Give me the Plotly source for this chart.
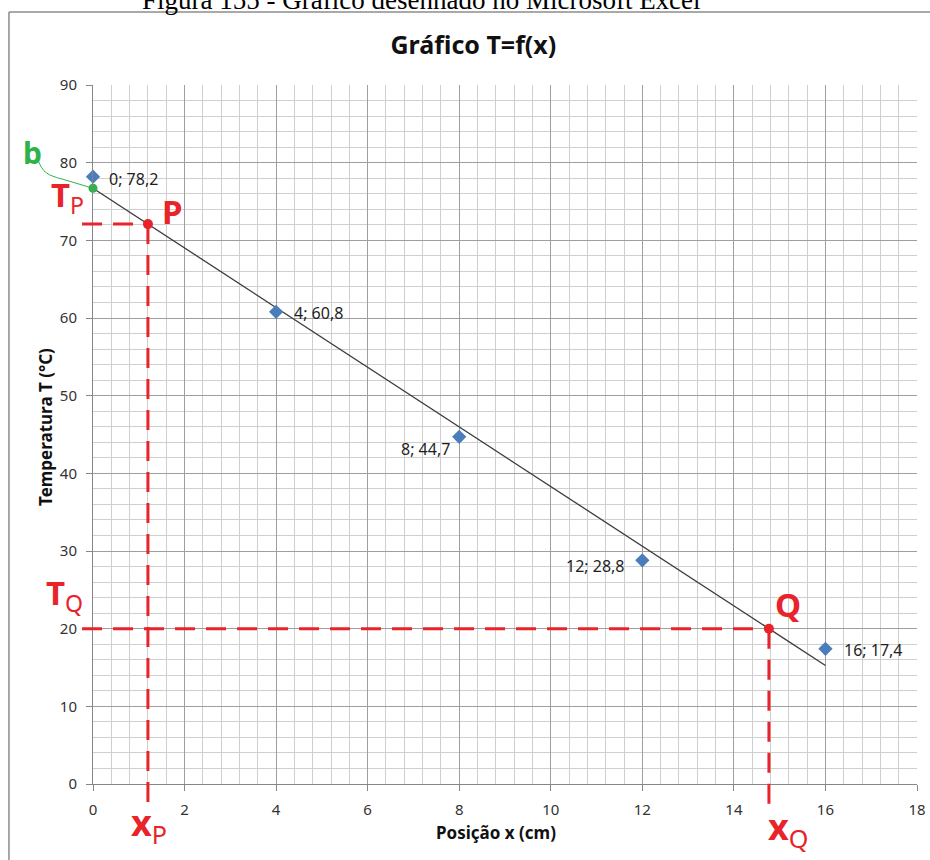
import numpy as np
import plotly.graph_objects as go

# Measured temperature along the bar
positions_cm = [0, 4, 8, 12, 16]
temperatures_c = [78.2, 60.8, 44.7, 28.8, 17.4]

# Label placement for each data point: (xanchor, xshift, yshift)
label_style = [("left", 14, -2), ("left", 16, -1), ("right", -7, -12),
               ("right", -15, -6), ("left", 17, -1)]

x_ticks = list(range(0, 19, 2))
y_ticks = list(range(0, 91, 10))
X_RANGE = (0, 18)
Y_RANGE = (0, 90)

# Linear fit T = a*x + b
slope, intercept = np.polyfit(positions_cm, temperatures_c, 1)

# Chosen points on the fitted line
x_p = 1.2
t_p = slope * x_p + intercept
t_q = 20.0
x_q = (t_q - intercept) / slope

RED = "#e8232a"
GREEN = "#2fb24a"
BLUE = "#4a7ebb"
FONT = "Noto Sans"


def to_px(x):
    return (x - X_RANGE[0]) / (X_RANGE[1] - X_RANGE[0])


def to_py(y):
    return (y - Y_RANGE[0]) / (Y_RANGE[1] - Y_RANGE[0])


fig = go.Figure()

# Trend line
fit_x = np.array([positions_cm[0], positions_cm[-1]], dtype=float)
fig.add_trace(go.Scatter(
    x=fit_x, y=slope * fit_x + intercept, mode="lines",
    line=dict(color="#3c3c3c", width=1.3), hoverinfo="skip", showlegend=False))

# Measured points
fig.add_trace(go.Scatter(
    x=positions_cm, y=temperatures_c, mode="markers",
    marker=dict(symbol="diamond", size=11, color=BLUE),
    showlegend=False, cliponaxis=False))

# Dashed guides for P and Q (paper coords so they can leave the plot area)
dash = "20px,11px"
for gx, gy, ybottom in [(x_p, t_p, -0.037), (x_q, t_q, -0.035)]:
    fig.add_shape(type="line", xref="paper", yref="paper",
                  x0=-0.0133, x1=to_px(gx), y0=to_py(gy), y1=to_py(gy),
                  line=dict(color=RED, width=3, dash=dash))
    fig.add_shape(type="line", xref="paper", yref="paper",
                  x0=to_px(gx), x1=to_px(gx), y0=to_py(gy), y1=ybottom,
                  line=dict(color=RED, width=3, dash=dash))

# Curved leader from the "b" label to the intercept
fig.add_shape(type="path", xref="paper", yref="paper",
              xsizemode="pixel", ysizemode="pixel",
              xanchor=to_px(0), yanchor=to_py(intercept),
              path="M -55,28 C -50,16 -46,13 -30,9 L 0,0",
              line=dict(color=GREEN, width=1))

# Intercept b and points P, Q
fig.add_trace(go.Scatter(
    x=[0], y=[intercept], mode="markers",
    marker=dict(size=9, color=GREEN), showlegend=False, cliponaxis=False))
fig.add_trace(go.Scatter(
    x=[x_p, x_q], y=[t_p, t_q], mode="markers",
    marker=dict(size=10, color=RED), showlegend=False, cliponaxis=False))

annotations = []

# Data labels
for xv, yv, (anchor, dx, dy) in zip(positions_cm, temperatures_c, label_style):
    txt = f"{xv}; {yv:.1f}".replace(".", ",")
    annotations.append(dict(
        x=xv, y=yv, xref="x", yref="y", text=txt, showarrow=False,
        xanchor=anchor, yanchor="middle", xshift=dx, yshift=dy,
        font=dict(family=FONT, size=16, color="#1e1e1e")))

red_font = dict(family=FONT, size=33, color=RED)
center = dict(showarrow=False, xanchor="center", yanchor="middle")
annotations += [
    dict(x=0, y=intercept, xref="x", yref="y", text="<b>b</b>",
         xshift=-61, yshift=36, font=dict(family=FONT, size=30, color=GREEN),
         **center),
    dict(x=-0.031, y=t_p, xref="paper", yref="y", text="<b>T</b><sub>P</sub>",
         yshift=28, font=red_font, **center),
    dict(x=-0.034, y=t_q, xref="paper", yref="y", text="<b>T</b><sub>Q</sub>",
         yshift=34, font=red_font, **center),
    dict(x=x_p, y=t_p, xref="x", yref="y", text="<b>P</b>",
         xshift=25, yshift=13, font=red_font, **center),
    dict(x=x_q, y=t_q, xref="x", yref="y", text="<b>Q</b>",
         xshift=19, yshift=24, font=red_font, **center),
    dict(x=x_p, y=-0.058, xref="x", yref="paper", text="<b>x</b><sub>P</sub>",
         xshift=1, font=dict(family=FONT, size=36, color=RED), **center),
    dict(x=x_q, y=-0.064, xref="x", yref="paper", text="<b>x</b><sub>Q</sub>",
         xshift=19, font=dict(family=FONT, size=36, color=RED), **center),
]

# Axis titles
annotations += [
    dict(x=0.489, y=-0.0701, xref="paper", yref="paper",
         text="<b>Posição x (cm)</b>",
         font=dict(family=FONT, size=17, color="#111"), **center),
    dict(x=-0.0583, y=0.5107, xref="paper", yref="paper",
         text="<b>Temperatura T (°C)</b>", textangle=-90,
         font=dict(family=FONT, size=17, color="#111"), **center),
]

# Caption above the chart frame
annotations.append(dict(
    x=0.399, y=1.121, xref="paper", yref="paper",
    text="Figura 155 - Gráfico desenhado no Microsoft Excel",
    font=dict(family="Liberation Serif", size=27, color="#000"), **center))

# Chart frame (left and top edges)
frame = dict(color="#8c8c8c", width=1.5)
fig.add_shape(type="line", xref="paper", yref="paper",
              x0=-0.102, x1=-0.102, y0=1.1044, y1=-0.12, line=frame)
fig.add_shape(type="line", xref="paper", yref="paper",
              x0=-0.102, x1=1.02, y0=1.1044, y1=1.1044, line=frame)

axis_common = dict(
    showline=True, linecolor="#868686", linewidth=1,
    ticks="outside", ticklen=6, tickcolor="#868686",
    showgrid=True, gridcolor="#9f9f9f", gridwidth=1,
    zeroline=False, automargin=False,
    tickfont=dict(family=FONT, size=15, color="#333"),
)

fig.update_xaxes(range=list(X_RANGE), tickvals=x_ticks,
                 minor=dict(dtick=0.4, tick0=0, showgrid=True,
                            gridcolor="#cfcfcf", gridwidth=1, ticks=""),
                 ticklabelstandoff=6, **axis_common)
fig.update_yaxes(range=list(Y_RANGE), tickvals=y_ticks,
                 minor=dict(dtick=2, tick0=0, showgrid=True,
                            gridcolor="#cfcfcf", gridwidth=1, ticks=""),
                 ticklabelstandoff=6, **axis_common)

fig.update_layout(
    width=930, height=860,
    margin=dict(l=93, r=13, t=85, b=76),
    paper_bgcolor="white", plot_bgcolor="white",
    title=dict(text="<b>Gráfico T=f(x)</b>", x=0.509, xanchor="center",
               y=1 - 45 / 860, yanchor="middle",
               font=dict(family=FONT, size=25, color="#111")),
    annotations=annotations,
    showlegend=False,
)

fig.write_html("out.html")
